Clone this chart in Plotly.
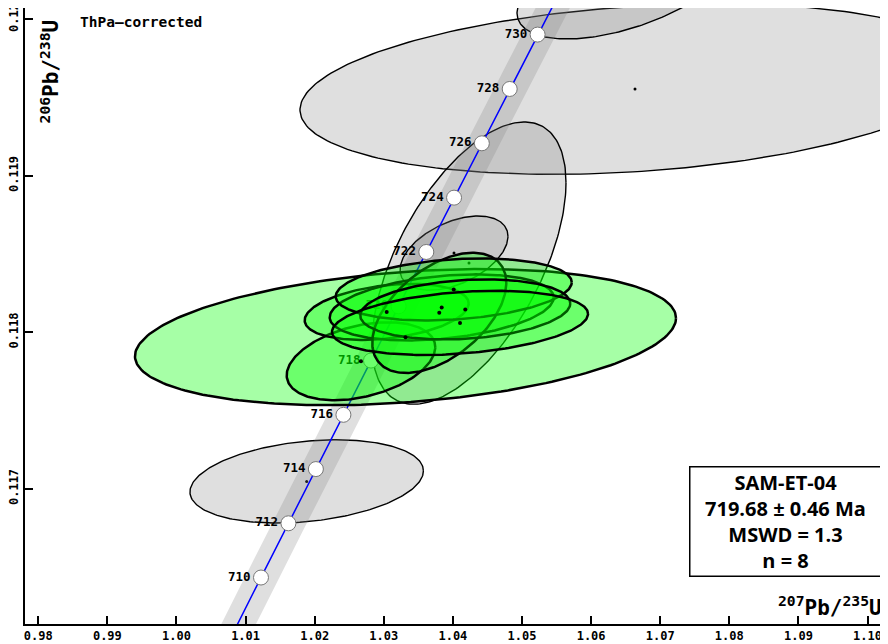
import numpy as np
import plotly.graph_objects as go

# ---------------- data ----------------
# U decay constants (1/yr)
L238 = 1.55125e-10
L235 = 9.8485e-10

marker_ages = [710, 712, 714, 716, 718, 720, 722, 724, 726, 728, 730]

# rejected analyses (grey): 207Pb/235U, 206Pb/238U, 2s half-extent x, 2s half-extent y, rho
grey_x = [1.06635, 1.06534, 1.04233, 1.04016, 1.01884]
grey_y = [0.119554, 0.120245, 0.118442, 0.118506, 0.117047]
grey_ex = [0.04848, 0.01606, 0.014037, 0.00781, 0.01689]
grey_ey = [0.000545, 0.000371, 0.000902, 0.000237, 0.000266]
grey_rho = [0.244, 0.55, 0.57, 0.45, 0.252]

# accepted analyses (green)
green_x = [1.03314, 1.0267, 1.03042, 1.03838, 1.03803, 1.04012, 1.04179, 1.04103]
green_y = [0.117969, 0.117815, 0.11813, 0.118159, 0.118124, 0.118274, 0.118146, 0.11806]
green_ex = [0.039146, 0.01075, 0.011867, 0.016208, 0.009696, 0.017077, 0.015195, 0.018524]
green_ey = [0.000435, 0.000249, 0.000179, 0.000211, 0.000384, 0.000198, 0.000192, 0.000205]
green_rho = [0.28, 0.36, 0.3, 0.3, 0.5, 0.23, 0.2, 0.28]

x_ticks = [0.98, 0.99, 1.00, 1.01, 1.02, 1.03, 1.04, 1.05, 1.06, 1.07, 1.08, 1.09, 1.10]
y_ticks = [0.117, 0.118, 0.119, 0.120]
y_ticklabels = ["0.117", "0.118", "0.119", "0.12"]

info_lines = ["SAM-ET-04", "719.68 ± 0.46 Ma", "MSWD = 1.3", "n = 8"]

# ---------------- helpers ----------------
def ellipse(cx, cy, ex, ey, rho, n=240):
    th = np.linspace(0, 2 * np.pi, n)
    x = cx + ex * np.cos(th)
    y = cy + ey * (rho * np.cos(th) + np.sqrt(1 - rho ** 2) * np.sin(th))
    return x, y

def conc(t_ma):
    t = np.asarray(t_ma) * 1e6
    return np.exp(L235 * t) - 1, np.exp(L238 * t) - 1

MONO = "DejaVu Sans Mono"
fig = go.Figure()

GREY_FILL = "rgba(128,128,128,0.25)"
GREEN_FILL = "rgba(0,255,0,0.35)"

for cx, cy, ex, ey, r in zip(grey_x, grey_y, grey_ex, grey_ey, grey_rho):
    ex_, ey_ = ellipse(cx, cy, ex, ey, r)
    fig.add_trace(go.Scatter(x=ex_, y=ey_, mode="lines", fill="toself",
                             fillcolor=GREY_FILL, line=dict(color="black", width=1.4),
                             hoverinfo="skip", showlegend=False))
fig.add_trace(go.Scatter(x=grey_x, y=grey_y, mode="markers",
                         marker=dict(color="black", size=3), showlegend=False,
                         hoverinfo="skip"))

# concordia band + curve
t_line = np.linspace(700, 740, 200)
cxl, cyl = conc(t_line)
BAND_L, BAND_R = 0.00235, 0.00265
bx = np.concatenate([cxl - BAND_L, (cxl + BAND_R)[::-1]])
by = np.concatenate([cyl, cyl[::-1]])
fig.add_trace(go.Scatter(x=bx, y=by, mode="lines", fill="toself", fillcolor=GREY_FILL,
                         line=dict(width=0), hoverinfo="skip", showlegend=False))
fig.add_trace(go.Scatter(x=cxl, y=cyl, mode="lines", line=dict(color="blue", width=1.5),
                         hoverinfo="skip", showlegend=False))
mx, my = conc(marker_ages)
fig.add_trace(go.Scatter(x=mx, y=my, mode="markers+text",
                         text=[str(a) for a in marker_ages], textposition="middle left",
                         textfont=dict(family=MONO, size=12.5, color="black", weight="bold"),
                         marker=dict(size=15, color="white", line=dict(color="#777", width=1)),
                         hoverinfo="skip", showlegend=False))

for cx, cy, ex, ey, r in zip(green_x, green_y, green_ex, green_ey, green_rho):
    ex_, ey_ = ellipse(cx, cy, ex, ey, r)
    fig.add_trace(go.Scatter(x=ex_, y=ey_, mode="lines", fill="toself",
                             fillcolor=GREEN_FILL, line=dict(color="black", width=2.5),
                             hoverinfo="skip", showlegend=False))
fig.add_trace(go.Scatter(x=green_x, y=green_y, mode="markers",
                         marker=dict(color="black", size=4), showlegend=False,
                         hoverinfo="skip"))

fig.update_layout(
    width=888, height=644,
    margin=dict(l=17, r=0, t=0, b=28, autoexpand=False),
    plot_bgcolor="white", paper_bgcolor="white",
    showlegend=False,
    xaxis=dict(range=[0.97808, 1.10412], showgrid=False, zeroline=False, automargin=False,
               showline=True, linewidth=2, linecolor="black", mirror=True,
               ticks="inside", ticklen=8, tickwidth=2, tickcolor="black",
               tickvals=x_ticks, ticktext=[f"{v:.2f}" for v in x_ticks],
               ticklabeloverflow="allow",
               tickfont=dict(family=MONO, size=12, color="black", weight="bold")),
    yaxis=dict(range=[0.116136, 0.120072], showgrid=False, zeroline=False, automargin=False,
               showline=True, linewidth=2, linecolor="black",
               ticks="inside", ticklen=8, tickwidth=2, tickcolor="black",
               tickvals=y_ticks, ticktext=y_ticklabels, tickangle=-90,
               ticklabeloverflow="allow",
               tickfont=dict(family=MONO, size=12, color="black", weight="bold")),
)

fig.add_annotation(xref="paper", yref="paper", x=0.0609, y=0.977, xanchor="left", yanchor="middle",
                   text="ThPa\u2013corrected", showarrow=False,
                   font=dict(family=MONO, size=14.5, color="black", weight="bold"))
fig.add_annotation(xref="paper", yref="paper", x=0.0287, y=0.897, xanchor="center", yanchor="middle",
                   text="<sup>206</sup>Pb/<sup>238</sup>U", textangle=-90, showarrow=False,
                   font=dict(family=MONO, size=21, color="black", weight="bold"))
fig.add_annotation(xref="paper", yref="paper", x=0.9862, y=0.029, xanchor="right", yanchor="middle",
                   text="<sup>207</sup>Pb/<sup>235</sup>U", showarrow=False,
                   font=dict(family=MONO, size=21, color="black", weight="bold"))
fig.add_annotation(xref="paper", yref="paper", x=0.8726, y=0.1656, xanchor="center", yanchor="middle",
                   text="<br>".join(info_lines), showarrow=False, align="center",
                   width=190, height=108, bgcolor="white", bordercolor="black",
                   borderwidth=1.5, borderpad=0,
                   font=dict(family="Open Sans", size=20, color="black", weight="bold"))

fig.write_html("out.html")
